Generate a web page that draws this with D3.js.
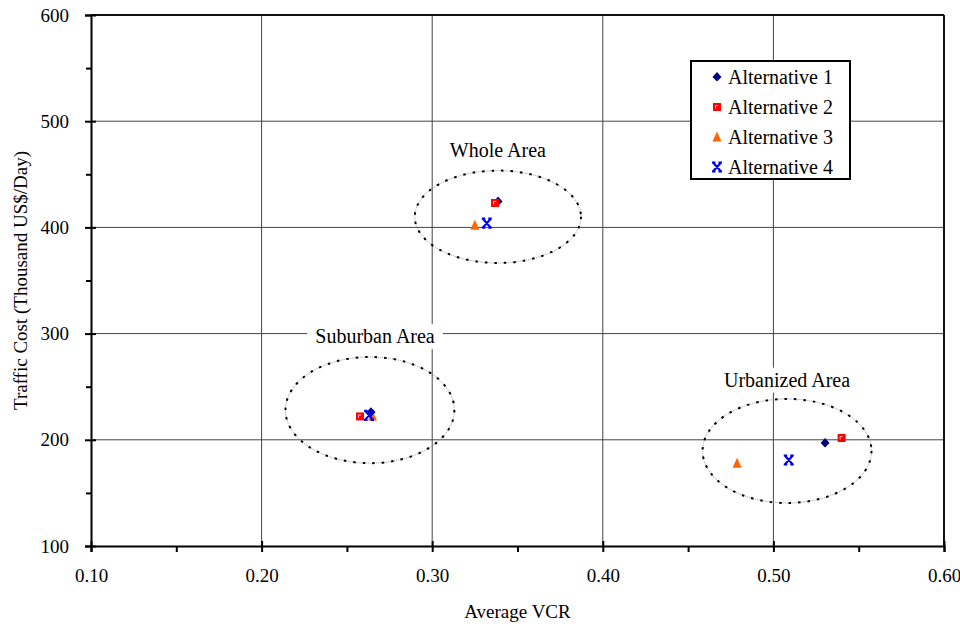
<!DOCTYPE html>
<html>
<head>
<meta charset="utf-8">
<script src="https://cdn.jsdelivr.net/npm/d3@7"></script>
<style>
  body { margin: 0; background: #fff; }
  svg, svg text { font-family: 'Liberation Serif', 'Times New Roman', 'DejaVu Serif', serif !important; fill: #000; }
</style>
</head>
<body>
<script>
  // data
  var alternatives = ["Alternative 1", "Alternative 2", "Alternative 3", "Alternative 4"];
  var colors = ["#000080", "#ff0000", "#ff6600", "#0000ff"];
  var shapes = ["diamond", "square", "triangle", "cross"];

  var wholeArea    = [[0.3386, 424.5], [0.3368, 423], [0.3250, 402], [0.3320, 404]];
  var suburbanArea = [[0.2641, 226], [0.2577, 222], [0.2650, 222.5], [0.2630, 223]];
  var urbanArea    = [[0.5303, 197], [0.5400, 201.7], [0.4787, 178], [0.5090, 181]];

  var areaNames = ["Whole Area", "Suburban Area", "Urbanized Area"];
  // ellipse: cx, cy, rx, ry in data units ; label position in data units
  var ellipses = [[0.3385, 410, 0.0487, 43.5], [0.2635, 228, 0.0495, 50], [0.508, 189.5, 0.0495, 49]];
  var labelPos = [[0.3385, 466.5], [0.2665, 291], [0.508, 250]];

  var xTicks = [0.10, 0.20, 0.30, 0.40, 0.50, 0.60];
  var yTicks = [100, 200, 300, 400, 500, 600];

  var width = 960, height = 626;
  var m = {left: 91, right: 16, top: 15, bottom: 80};

  var x = d3.scaleLinear().domain([0.1, 0.6]).range([m.left, width - m.right]);
  var y = d3.scaleLinear().domain([100, 600]).range([height - m.bottom, m.top]);

  var svg = d3.select("body").append("svg")
    .attr("width", width)
    .attr("height", height);

  // gridlines
  svg.append("g").selectAll("line.gx")
    .data(xTicks.slice(1, -1)).enter().append("line")
    .attr("x1", d => x(d)).attr("x2", d => x(d))
    .attr("y1", y(100)).attr("y2", y(600))
    .attr("stroke", "#444").attr("stroke-width", 1);
  svg.append("g").selectAll("line.gy")
    .data(yTicks.slice(1, -1)).enter().append("line")
    .attr("x1", x(0.1)).attr("x2", x(0.6))
    .attr("y1", d => y(d)).attr("y2", d => y(d))
    .attr("stroke", "#444").attr("stroke-width", 1);

  // frame top / right
  svg.append("line").attr("x1", x(0.1)).attr("x2", x(0.6)).attr("y1", y(600)).attr("y2", y(600))
    .attr("stroke", "#111").attr("stroke-width", 2);
  svg.append("line").attr("x1", x(0.6)).attr("x2", x(0.6)).attr("y1", y(600)).attr("y2", y(100))
    .attr("stroke", "#111").attr("stroke-width", 2);

  // ellipses
  var ell = svg.append("g");
  ellipses.forEach(function(e) {
    ell.append("ellipse")
      .attr("cx", x(e[0])).attr("cy", y(e[1]))
      .attr("rx", x(e[0] + e[2]) - x(e[0])).attr("ry", y(e[1] - e[3]) - y(e[1]))
      .attr("fill", "none").attr("stroke", "#999").attr("stroke-width", 1)
      .attr("stroke-dasharray", "1,1");
    ell.append("ellipse")
      .attr("cx", x(e[0])).attr("cy", y(e[1]))
      .attr("rx", x(e[0] + e[2]) - x(e[0])).attr("ry", y(e[1] - e[3]) - y(e[1]))
      .attr("fill", "none").attr("stroke", "#000").attr("stroke-width", 2)
      .attr("stroke-dasharray", "2.5,7");
  });

  // area labels with white boxes
  areaNames.forEach(function(name, i) {
    var g = svg.append("g");
    var t = g.append("text")
      .attr("x", x(labelPos[i][0])).attr("y", y(labelPos[i][1]))
      .attr("text-anchor", "middle")
      .style("font-size", "20px")
      .text(name);
    var bb = t.node().getBBox();
    g.insert("rect", "text")
      .attr("x", bb.x - 8).attr("y", bb.y - 1)
      .attr("width", bb.width + 16).attr("height", bb.height + 3)
      .attr("fill", "#fff");
  });

  // axes
  var xAxis = d3.axisBottom(x).tickValues(xTicks).tickFormat(d3.format(".2f")).tickSize(6).tickPadding(17);
  var gx = svg.append("g").attr("transform", "translate(0," + y(100) + ")").call(xAxis).attr("font-family", null);
  gx.select(".domain").attr("stroke", "#000").attr("stroke-width", 2);
  gx.selectAll(".tick line").attr("stroke-width", 2).attr("y1", -5);
  gx.selectAll("text").style("font-size", "19px");

  svg.append("g").attr("transform", "translate(0," + y(100) + ")")
    .call(d3.axisBottom(x).tickValues([0.15, 0.25, 0.35, 0.45, 0.55]).tickFormat("").tickSize(6))
    .call(g => g.select(".domain").remove())
    .selectAll("line").attr("stroke-width", 2);

  var yAxis = d3.axisLeft(y).tickValues(yTicks).tickSize(6).tickPadding(16);
  var gy = svg.append("g").attr("transform", "translate(" + x(0.1) + ",0)").call(yAxis).attr("font-family", null);
  gy.select(".domain").attr("stroke", "#000").attr("stroke-width", 2);
  gy.selectAll(".tick line").attr("stroke-width", 2).attr("x1", 5);
  gy.selectAll("text").style("font-size", "19px");

  svg.append("g").attr("transform", "translate(" + x(0.1) + ",0)")
    .call(d3.axisLeft(y).tickValues([150, 250, 350, 450, 550]).tickFormat("").tickSize(5))
    .call(g => g.select(".domain").remove())
    .selectAll("line").attr("stroke-width", 2);

  // axis titles
  svg.append("text").attr("x", (x(0.1) + x(0.6)) / 2).attr("y", 618)
    .attr("text-anchor", "middle").style("font-size", "19px").text("Average VCR");
  svg.append("text")
    .attr("transform", "translate(27," + ((y(100) + y(600)) / 2) + ") rotate(-90)")
    .attr("text-anchor", "middle").style("font-size", "19px").text("Traffic Cost (Thousand US$/Day)");

  // markers
  function marker(sel, shape, color) {
    if (shape === "diamond") {
      sel.append("path").attr("d", "M0,-5L4.5,0L0,4.5L-4.5,0Z").attr("fill", color);
    } else if (shape === "square") {
      sel.append("rect").attr("x", -4).attr("y", -4).attr("width", 8).attr("height", 8).attr("fill", color);
      sel.append("path").attr("d", "M-1.5,1.5V-1.5H1").attr("fill", "none").attr("stroke", "#fbb").attr("stroke-width", 1);
    } else if (shape === "triangle") {
      sel.append("path").attr("d", "M0,-5.5L4.5,4.5L-4.5,4.5Z").attr("fill", color);
    } else {
      sel.append("path").attr("d", "M-4,-4.5L4,4.5M4,-4.5L-4,4.5M-5,-4.5H-1.5M1.5,-4.5H5M-5,4.5H-1.5M1.5,4.5H5")
        .attr("fill", "none").attr("stroke", color).attr("stroke-width", 2.2);
    }
  }

  var drawOrder = [2, 0, 1, 3];
  [wholeArea, suburbanArea, urbanArea].forEach(function(area) {
    drawOrder.forEach(function(i) {
      var g = svg.append("g").attr("transform", "translate(" + x(area[i][0]) + "," + y(area[i][1]) + ")");
      marker(g, shapes[i], colors[i]);
    });
  });

  // legend
  var lg = svg.append("g").attr("transform", "translate(691,61)");
  lg.append("rect").attr("width", 159).attr("height", 118)
    .attr("fill", "#fff").attr("stroke", "#000").attr("stroke-width", 2);
  alternatives.forEach(function(name, i) {
    var row = lg.append("g").attr("transform", "translate(0," + (16 + i * 30) + ")");
    marker(row.append("g").attr("transform", "translate(26,0)"), shapes[i], colors[i]);
    row.append("text").attr("x", 37).attr("y", 7).style("font-size", "20px").text(name);
  });
</script>
</body>
</html>
